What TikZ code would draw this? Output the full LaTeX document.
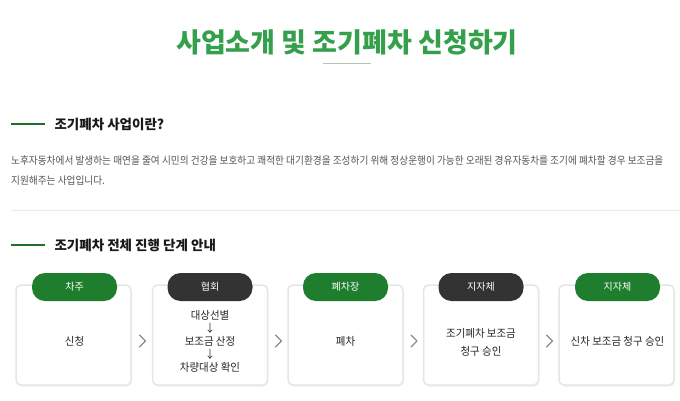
\documentclass[tikz,border=0pt]{standalone}
\usepackage{fontspec}
\setmainfont{Noto Sans CJK KR}
\newfontfamily\krn[FakeStretch=0.92]{Noto Sans CJK KR}
\newfontfamily\krs[FakeStretch=0.95]{Noto Sans CJK KR}
\usetikzlibrary{shadows}
\definecolor{titlegreen}{HTML}{35A04C}
\definecolor{linegreen}{HTML}{1F6E2C}
\definecolor{pillgreen}{HTML}{1F7D2E}
\definecolor{pilldark}{HTML}{333333}
\definecolor{bodytext}{HTML}{555555}
\definecolor{boxborder}{HTML}{E6E6E6}
\tikzset{
  stepbox/.style={draw=boxborder, line width=1.5pt, fill=white, rounded corners=5pt,
    minimum width=115pt, minimum height=100pt, inner sep=0pt,
    drop shadow={opacity=0.12, shadow xshift=0.8pt, shadow yshift=-1.5pt}},
  pill/.style={rounded corners=13pt, minimum width=85pt, minimum height=28pt, inner sep=0pt,
    text=white, font=\fontsize{10}{11}\selectfont},
  gpill/.style={pill, fill=pillgreen},
  dpill/.style={pill, fill=pilldark},
  steptext/.style={font=\krs\fontsize{11}{18}\selectfont, text=black!85, align=center},
  secline/.style={linegreen, line width=2pt},
  sectitle/.style={anchor=west, font=\bfseries\fontsize{13.5}{15}\selectfont, text=black!90},
  chev/.style={draw=black!45, line width=1.3pt, line cap=round, line join=round},
}
\begin{document}
\begin{tikzpicture}[x=1pt,y=-1pt]
\useasboundingbox (0,0) rectangle (680,400);
\fill[white] (0,0) rectangle (680,400);

% title
\node[font=\bfseries\fontsize{27}{32}\selectfont, text=titlegreen] (title) at (347,42) {사업소개 및 조기폐차 신청하기};
\coordinate (ulA) at (323,63);
\coordinate (ulB) at (371,63);
\draw[draw=titlegreen!40!gray!50, line width=1pt] (ulA) -- (ulB);

% section 1
\coordinate (s1a) at (11,124);
\coordinate (s1b) at (45,124);
\draw[secline] (s1a) -- (s1b);
\node[sectitle] (sec1) at (51,124) {조기폐차 사업이란?};

\node[anchor=west, text=bodytext, font=\krn\fontsize{10.5}{12}\selectfont, inner sep=0pt] (p1) at (11,161)
  {노후자동차에서 발생하는 매연을 줄여 시민의 건강을 보호하고 쾌적한 대기환경을 조성하기 위해 정상운행이 가능한 오래된 경유자동차를 조기에 폐차할 경우 보조금을};
\node[anchor=west, text=bodytext, font=\krn\fontsize{10.5}{12}\selectfont, inner sep=0pt] (p2) at (11,181)
  {지원해주는 사업입니다.};

\coordinate (sepA) at (11,210);
\coordinate (sepB) at (680,210);
\draw[black!8, line width=0.8pt] (sepA) -- (sepB);

% section 2
\coordinate (s2a) at (11,245);
\coordinate (s2b) at (45,245);
\draw[secline] (s2a) -- (s2b);
\node[sectitle] (sec2) at (51,245) {조기폐차 전체 진행 단계 안내};

% boxes
\node[stepbox] (b1) at (73.5,335) {};
\node[stepbox] (b2) at (210,335) {};
\node[stepbox] (b3) at (345.5,335) {};
\node[stepbox] (b4) at (481,335) {};
\node[stepbox] (b5) at (616.5,335) {};

\node[gpill] (t1) at (74.5,287) {차주};
\node[dpill] (t2) at (210,287) {협회};
\node[gpill] (t3) at (345.5,287) {폐차장};
\node[dpill] (t4) at (481,287) {지자체};
\node[gpill] (t5) at (617.5,287) {지자체};

\node[steptext] (x1) at (74.5,341) {신청};
\node[steptext, font=\krs\fontsize{11}{14}\selectfont] (x2) at (210,341) {대상선별\\[-1pt]↓\\[-1pt]보조금 산정\\[-1pt]↓\\[-1pt]차량대상 확인};
\node[steptext] (x3) at (345.5,341) {폐차};
\node[steptext] (x4) at (481,342) {조기폐차 보조금\\청구 승인};
\node[steptext] (x5) at (617.5,341) {신차 보조금 청구 승인};

% chevrons
\foreach \cx/\nm in {142.5/c1, 278.5/c2, 414/c3, 549.5/c4}{
  \coordinate (\nm) at (\cx,341);
  \draw[chev] ([shift={(-3,-6)}]\nm) -- ([shift={(3,0)}]\nm) -- ([shift={(-3,6)}]\nm);
}
\end{tikzpicture}
\end{document}
